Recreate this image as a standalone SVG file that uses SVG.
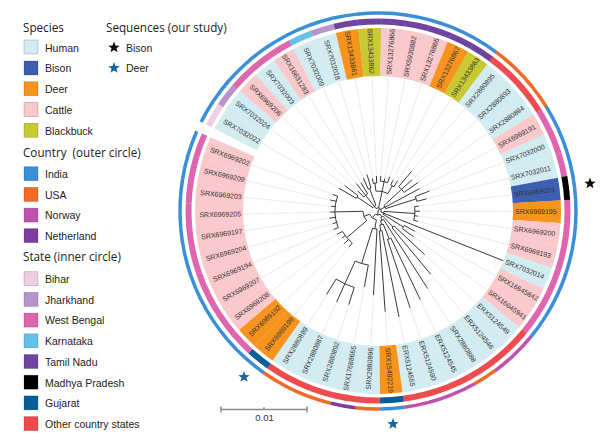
<svg xmlns="http://www.w3.org/2000/svg" width="600" height="438" viewBox="0 0 600 438">
<style>
.hd{font-family:"Open Sans","Liberation Sans",sans-serif;font-size:11.7px;fill:#222}
.lg{font-family:"Liberation Sans",Arial,sans-serif;font-size:10.5px;fill:#222}
.sq{stroke:#000;stroke-opacity:0.22;stroke-width:0.8}
.lb{font-family:"Liberation Sans",Arial,sans-serif;font-size:7px;fill:#333}
.lr{text-anchor:end}
.br{fill:none;stroke:#222;stroke-width:0.9}
.gd{stroke:#c6c6c6;stroke-width:0.6;stroke-dasharray:1.2 1}
.f-hu{fill:#d3ecf2}.f-bi{fill:#3d5fb2}.f-de{fill:#f7941d}.f-ca{fill:#f9c9cc}.f-bb{fill:#c9c934}
.f-in{fill:#3b8ed8}.f-us{fill:#f06a25}.f-no{fill:#c052ae}.f-ne{fill:#7d3d9f}
.f-bh{fill:#efcde2}.f-jh{fill:#b695cb}.f-wb{fill:#df66ae}.f-ka{fill:#62c2ea}.f-tn{fill:#6e44a0}.f-mp{fill:#000}.f-gu{fill:#0b5d97}.f-ot{fill:#ee4b4f}
.s-in{stroke:#3b8ed8}.s-us{stroke:#f06a25}.s-no{stroke:#c052ae}.s-ne{stroke:#7d3d9f}
.s-bh{stroke:#efcde2}.s-jh{stroke:#b695cb}.s-wb{stroke:#df66ae}.s-ka{stroke:#62c2ea}.s-tn{stroke:#6e44a0}.s-mp{stroke:#000}.s-gu{stroke:#0b5d97}.s-ot{stroke:#ee4b4f}
.scale{stroke:#8a8a8a;stroke-width:1.5;fill:none}
.sc{font-family:"Liberation Sans",Arial,sans-serif;font-size:9.5px;fill:#333;text-anchor:middle}
</style>
<defs>
<path id="sec" d="M134.73,-8.48 L182.64,-11.49 A183,183 0 0 1 182.64,11.49 L134.73,8.48 A135,135 0 0 0 134.73,-8.48 Z"/>
<path id="ri" d="M189.13,-11.90 A189.5,189.5 0 0 1 189.13,11.90" fill="none" stroke-width="6"/>
<path id="ro" d="M197.61,-12.43 A198,198 0 0 1 197.61,12.43" fill="none" stroke-width="3.5"/>
<polygon id="star" points="0,-6 1.53,-2.1 5.71,-1.85 2.47,0.8 3.53,4.85 0,2.6 -3.53,4.85 -2.47,0.8 -5.71,-1.85 -1.53,-2.1"/>
</defs>
<rect width="600" height="438" fill="#fff"/>

<g id="legend">
<text class="hd" x="23" y="32">Species</text>
<rect class="sq f-hu" x="24" y="40" width="14" height="14"/><text class="lg" x="45" y="51.5">Human</text>
<rect class="sq f-bi" x="24" y="61" width="14" height="14"/><text class="lg" x="45" y="72.3">Bison</text>
<rect class="sq f-de" x="24" y="81.7" width="14" height="14"/><text class="lg" x="45" y="93">Deer</text>
<rect class="sq f-ca" x="24" y="102.5" width="14" height="14"/><text class="lg" x="45" y="113.8">Cattle</text>
<rect class="sq f-bb" x="24" y="123.3" width="14" height="14"/><text class="lg" x="45" y="134.6">Blackbuck</text>
<text class="hd" x="23" y="156.7">Country&#160; (outer circle)</text>
<rect class="sq f-in" x="24" y="166.7" width="14" height="14"/><text class="lg" x="45" y="178">India</text>
<rect class="sq f-us" x="24" y="187.4" width="14" height="14"/><text class="lg" x="45" y="198.7">USA</text>
<rect class="sq f-no" x="24" y="208.1" width="14" height="14"/><text class="lg" x="45" y="219.4">Norway</text>
<rect class="sq f-ne" x="24" y="228.6" width="14" height="14"/><text class="lg" x="45" y="239.9">Netherland</text>
<text class="hd" x="23" y="260.6">State (inner circle)</text>
<rect class="sq f-bh" x="24" y="271.7" width="14" height="14"/><text class="lg" x="45" y="283">Bihar</text>
<rect class="sq f-jh" x="24" y="292.4" width="14" height="14"/><text class="lg" x="45" y="303.7">Jharkhand</text>
<rect class="sq f-wb" x="24" y="313.1" width="14" height="14"/><text class="lg" x="45" y="324.4">West Bengal</text>
<rect class="sq f-ka" x="24" y="333.8" width="14" height="14"/><text class="lg" x="45" y="345.1">Karnataka</text>
<rect class="sq f-tn" x="24" y="354.5" width="14" height="14"/><text class="lg" x="45" y="365.8">Tamil Nadu</text>
<rect class="sq f-mp" x="24" y="375.2" width="14" height="14"/><text class="lg" x="45" y="386.5">Madhya Pradesh</text>
<rect class="sq f-gu" x="24" y="395.9" width="14" height="14"/><text class="lg" x="45" y="407.2">Gujarat</text>
<rect class="sq f-ot" x="24" y="416.6" width="14" height="14"/><text class="lg" x="45" y="427.9">Other country states</text>
<text class="hd" x="106" y="32">Sequences (our study)</text>
<use href="#star" x="114" y="47.5" fill="#111"/><text class="lg" x="126" y="51.5">Bison</text>
<use href="#star" x="114" y="68" fill="#17679e"/><text class="lg" x="126" y="72.3">Deer</text>
</g>

<g id="connectors" transform="translate(378 211)">
<g id="guides">
<line class="gd" x1="45" x2="135" transform="rotate(210.3)"/>
<line class="gd" x1="42" x2="135" transform="rotate(217.44)"/>
<line class="gd" x1="28" x2="135" transform="rotate(224.58)"/>
<line class="gd" x1="35" x2="135" transform="rotate(231.72)"/>
<line class="gd" x1="33" x2="135" transform="rotate(238.86)"/>
<line class="gd" x1="36" x2="135" transform="rotate(246)"/>
<line class="gd" x1="38" x2="135" transform="rotate(253.14)"/>
<line class="gd" x1="33" x2="135" transform="rotate(260.28)"/>
<line class="gd" x1="35" x2="135" transform="rotate(267.42)"/>
<line class="gd" x1="35" x2="135" transform="rotate(274.56)"/>
<line class="gd" x1="33" x2="135" transform="rotate(281.7)"/>
<line class="gd" x1="36" x2="135" transform="rotate(288.84)"/>
<line class="gd" x1="34" x2="135" transform="rotate(295.98)"/>
<line class="gd" x1="36" x2="135" transform="rotate(303.12)"/>
<line class="gd" x1="52" x2="135" transform="rotate(310.26)"/>
<line class="gd" x1="46" x2="135" transform="rotate(317.4)"/>
<line class="gd" x1="49" x2="135" transform="rotate(324.54)"/>
<line class="gd" x1="47" x2="135" transform="rotate(331.68)"/>
<line class="gd" x1="55" x2="135" transform="rotate(338.82)"/>
<line class="gd" x1="50" x2="135" transform="rotate(345.96)"/>
<line class="gd" x1="41" x2="135" transform="rotate(353.1)"/>
<line class="gd" x1="42" x2="135" transform="rotate(0.24)"/>
<line class="gd" x1="40" x2="135" transform="rotate(7.38)"/>
<line class="gd" x1="41" x2="135" transform="rotate(14.52)"/>
<line class="gd" x1="42" x2="135" transform="rotate(28.8)"/>
<line class="gd" x1="44" x2="135" transform="rotate(35.94)"/>
<line class="gd" x1="64" x2="135" transform="rotate(43.08)"/>
<line class="gd" x1="82" x2="135" transform="rotate(50.22)"/>
<line class="gd" x1="92" x2="135" transform="rotate(57.36)"/>
<line class="gd" x1="98" x2="135" transform="rotate(64.5)"/>
<line class="gd" x1="102" x2="135" transform="rotate(71.64)"/>
<line class="gd" x1="108" x2="135" transform="rotate(78.78)"/>
<line class="gd" x1="101" x2="135" transform="rotate(85.92)"/>
<line class="gd" x1="84" x2="135" transform="rotate(93.06)"/>
<line class="gd" x1="77" x2="135" transform="rotate(100.2)"/>
<line class="gd" x1="98" x2="135" transform="rotate(107.34)"/>
<line class="gd" x1="100" x2="135" transform="rotate(114.48)"/>
<line class="gd" x1="98" x2="135" transform="rotate(121.62)"/>
<line class="gd" x1="46" x2="135" transform="rotate(128.76)"/>
<line class="gd" x1="47" x2="135" transform="rotate(135.9)"/>
<line class="gd" x1="45" x2="135" transform="rotate(143.04)"/>
<line class="gd" x1="47" x2="135" transform="rotate(150.18)"/>
<line class="gd" x1="48" x2="135" transform="rotate(157.32)"/>
<line class="gd" x1="47" x2="135" transform="rotate(164.46)"/>
<line class="gd" x1="49" x2="135" transform="rotate(171.6)"/>
<line class="gd" x1="48" x2="135" transform="rotate(178.74)"/>
<line class="gd" x1="47" x2="135" transform="rotate(185.88)"/>
<line class="gd" x1="49" x2="135" transform="rotate(193.02)"/>
<line class="gd" x1="48" x2="135" transform="rotate(200.16)"/>
</g>
<path id="tree" class="br" d="M0,0 L-0.2,4.0 M0,0 L1.7,-2.5
M2.2,3.3 A4,4 0 0 1 -2.6,3.1 M2.2,3.3 L3.9,5.8 M-2.6,3.1 L-5.7,6.9
M-1.6,8.9 A9,9 0 0 1 -8.4,3.2 M-1.6,8.9 L-3.2,17.7 M-8.4,3.2 L-14.0,5.4
M-11.4,9.7 A15,15 0 0 1 -15.0,0.3 M-11.4,9.7 L-31.2,26.6 M-15.0,0.3 L-43.0,0.9
M-25.7,32.0 A41,41 0 0 1 -35.6,20.4
M-25.7,32.0 L-28.8,35.9 M-29.4,28.5 L-33.8,32.7 M-32.8,24.7 L-36.0,27.1 M-35.6,20.4 L-40.8,23.4
M-39.7,16.6 A43,43 0 0 1 -40.4,-14.8
M-39.7,16.6 L-44.3,18.5 M-41.4,11.5 L-45.3,12.6 M-42.5,6.3 L-48.5,7.2 M-43.0,0.9 L-48.0,1.1 M-42.8,-4.4 L-46.8,-4.8 M-41.9,-9.7 L-47.7,-11.0 M-40.4,-14.8 L-45.1,-16.5
M-1.0,18.0 A18,18 0 0 1 -5.4,17.2 M-1.0,18.0 L-4.5,83.9 M-5.4,17.2 L-16.4,52.5
M-9.7,54.1 A55,55 0 0 1 -22.8,50.1 M-9.7,54.1 L-13.6,75.8 M-22.8,50.1 L-33.2,72.8
M-23.8,76.4 A80,80 0 0 1 -41.9,68.1 M-23.8,76.4 L-29.2,93.5 M-33.2,72.8 L-41.4,91.0 M-41.9,68.1 L-51.4,83.4
M4.8,5.1 A7,7 0 0 1 2.8,6.4 M4.8,5.1 L15.1,16.0
M16.1,15.0 A22,22 0 0 1 14.1,16.9 M16.1,15.0 L46.7,43.7 M14.1,16.9 L52.5,63.0
M2.8,6.4 L4.0,9.2 M5.4,8.4 A10,10 0 0 1 2.6,9.7 M5.4,8.4 L49.6,77.5
M2.6,9.7 L3.6,13.5 M5.2,13.0 A14,14 0 0 1 1.9,13.9 M5.2,13.0 L11.2,27.8
M12.9,27.1 A30,30 0 0 1 9.5,28.5 M12.9,27.1 L42.2,88.5 M9.5,28.5 L32.1,96.8
M1.9,13.9 L2.7,19.8 M3.9,19.6 A20,20 0 0 1 1.4,20.0 M3.9,19.6 L21.0,105.9 M1.4,20.0 L7.2,100.7
M-1.9,-2.4 A3,3 0 0 1 2.9,0.9 M-1.9,-2.4 L-3.7,-4.7
M-5.0,-3.3 A6,6 0 0 1 -2.1,-5.6 M-5.0,-3.3 L-20.8,-13.9
M-21.6,-12.6 A25,25 0 0 1 -19.9,-15.2 M-21.6,-12.6 L-38.9,-22.7 M-19.9,-15.2 L-33.3,-25.5
M-3.7,-4.7 L-12.4,-15.7 M-14.2,-14.0 A20,20 0 0 1 -10.3,-17.1 M-14.2,-14.0 L-19.9,-19.7 M-12.4,-15.7 L-21.7,-27.5 M-10.3,-17.1 L-17.1,-28.2
M-2.1,-5.6 L-8.4,-22.5 M-9.8,-21.9 A24,24 0 0 1 -7.0,-23.0 M-9.8,-21.9 L-14.6,-32.9 M-7.0,-23.0 L-11.0,-36.4
M0.6,-2.9 L4.1,-19.6 M-2.1,-19.9 A20,20 0 0 1 9.9,-17.4
M-2.1,-19.9 L-3.0,-27.8 M-4.7,-27.6 A28,28 0 0 1 -1.3,-28.0 M-4.7,-27.6 L-5.6,-32.5 M-1.3,-28.0 L-1.6,-35.0
M4.1,-19.6 L6.1,-29.4 M2.4,-29.9 A30,30 0 0 1 9.7,-28.4 M2.4,-29.9 L2.8,-34.9 M6.1,-29.4 L6.7,-32.3 M9.7,-28.4 L11.6,-34.1
M9.9,-17.4 L14.3,-25.2 M12.7,-26.1 A29,29 0 0 1 15.8,-24.3 M12.7,-26.1 L14.9,-30.6 M15.8,-24.3 L19.7,-30.2
M2.6,-1.5 L6.9,-4.0 M5.9,-5.4 A8,8 0 0 1 7.6,-2.4
M5.9,-5.4 L23.6,-21.7 M20.7,-24.4 A32,32 0 0 1 26.1,-18.6 M20.7,-24.4 L33.6,-39.7 M23.6,-21.7 L33.9,-31.1 M26.1,-18.6 L39.9,-28.4
M7.0,-3.8 L41.4,-22.3
M7.6,-2.4 L38.1,-12.1 M37.3,-14.5 A40,40 0 0 1 38.8,-9.7 M37.3,-14.5 L51.3,-19.9 M38.8,-9.7 L48.5,-12.1
M2.9,0.9 L5.7,1.9 M6.0,0.4 A6,6 0 0 1 5.1,3.2
M6.0,0.4 L36.9,2.5 M36.7,-4.4 A37,37 0 0 1 35.8,9.3 M36.7,-4.4 L40.7,-4.9 M37.0,0.2 L42.0,0.2 M36.7,4.8 L39.7,5.1 M35.8,9.3 L39.7,10.3
M5.6,2.2 L125.5,49.8
M5.1,3.2 L25.3,16.1 M26.3,14.5 A30,30 0 0 1 24.3,17.6 M26.3,14.5 L36.8,20.2 M24.3,17.6 L35.6,25.8"/>
</g>

<g id="tips" transform="translate(378 211)">
<g id="leaf-SRX7032022" transform="rotate(210.3)"><use href="#sec" class="f-hu"/><use href="#ri" class="s-bh"/><use href="#ro" class="s-in"/><text class="lb lr" transform="rotate(180)" x="-137" y="2.4">SRX7032022</text></g>
<g id="leaf-SRX7032024" transform="rotate(217.44)"><use href="#sec" class="f-hu"/><use href="#ri" class="s-jh"/><use href="#ro" class="s-in"/><text class="lb lr" transform="rotate(180)" x="-137" y="2.4">SRX7032024</text></g>
<g id="leaf-SRX6969206" transform="rotate(224.58)"><use href="#sec" class="f-ca"/><use href="#ri" class="s-wb"/><use href="#ro" class="s-in"/><text class="lb lr" transform="rotate(180)" x="-137" y="2.4">SRX6969206</text></g>
<g id="leaf-SRX7032003" transform="rotate(231.72)"><use href="#sec" class="f-hu"/><use href="#ri" class="s-wb"/><use href="#ro" class="s-in"/><text class="lb lr" transform="rotate(180)" x="-137" y="2.4">SRX7032003</text></g>
<g id="leaf-SRX16631283" transform="rotate(238.86)"><use href="#sec" class="f-ca"/><use href="#ri" class="s-wb"/><use href="#ro" class="s-in"/><text class="lb lr" transform="rotate(180)" x="-137" y="2.4">SRX16631283</text></g>
<g id="leaf-SRX7032009" transform="rotate(246)"><use href="#sec" class="f-hu"/><use href="#ri" class="s-ka"/><use href="#ro" class="s-in"/><text class="lb lr" transform="rotate(180)" x="-137" y="2.4">SRX7032009</text></g>
<g id="leaf-SRX7032018" transform="rotate(253.14)"><use href="#sec" class="f-hu"/><use href="#ri" class="s-jh"/><use href="#ro" class="s-in"/><text class="lb lr" transform="rotate(180)" x="-137" y="2.4">SRX7032018</text></g>
<g id="leaf-SRX13433861" transform="rotate(260.28)"><use href="#sec" class="f-de"/><use href="#ri" class="s-tn"/><use href="#ro" class="s-in"/><text class="lb lr" transform="rotate(180)" x="-137" y="2.4">SRX13433861</text></g>
<g id="leaf-SRX13433862" transform="rotate(267.42)"><use href="#sec" class="f-bb"/><use href="#ri" class="s-tn"/><use href="#ro" class="s-in"/><text class="lb lr" transform="rotate(180)" x="-137" y="2.4">SRX13433862</text></g>
<g id="leaf-SRX13276866" transform="rotate(274.56)"><use href="#sec" class="f-ca"/><use href="#ri" class="s-tn"/><use href="#ro" class="s-in"/><text class="lb" x="137" y="2.4">SRX13276866</text></g>
<g id="leaf-SRX5930882" transform="rotate(281.7)"><use href="#sec" class="f-ca"/><use href="#ri" class="s-tn"/><use href="#ro" class="s-in"/><text class="lb" x="137" y="2.4">SRX5930882</text></g>
<g id="leaf-SRX13276865" transform="rotate(288.84)"><use href="#sec" class="f-ca"/><use href="#ri" class="s-tn"/><use href="#ro" class="s-in"/><text class="lb" x="137" y="2.4">SRX13276865</text></g>
<g id="leaf-SRX13276867" transform="rotate(295.98)"><use href="#sec" class="f-de"/><use href="#ri" class="s-tn"/><use href="#ro" class="s-in"/><text class="lb" x="137" y="2.4">SRX13276867</text></g>
<g id="leaf-SRX13433863" transform="rotate(303.12)"><use href="#sec" class="f-bb"/><use href="#ri" class="s-tn"/><use href="#ro" class="s-in"/><text class="lb" x="137" y="2.4">SRX13433863</text></g>
<g id="leaf-SRX2880895" transform="rotate(310.26)"><use href="#sec" class="f-hu"/><use href="#ri" class="s-ot"/><use href="#ro" class="s-us"/><text class="lb" x="137" y="2.4">SRX2880895</text></g>
<g id="leaf-SRX2880893" transform="rotate(317.4)"><use href="#sec" class="f-hu"/><use href="#ri" class="s-ot"/><use href="#ro" class="s-us"/><text class="lb" x="137" y="2.4">SRX2880893</text></g>
<g id="leaf-SRX2880894" transform="rotate(324.54)"><use href="#sec" class="f-hu"/><use href="#ri" class="s-ot"/><use href="#ro" class="s-us"/><text class="lb" x="137" y="2.4">SRX2880894</text></g>
<g id="leaf-SRX6969191" transform="rotate(331.68)"><use href="#sec" class="f-ca"/><use href="#ri" class="s-wb"/><use href="#ro" class="s-in"/><text class="lb" x="137" y="2.4">SRX6969191</text></g>
<g id="leaf-SRX7032000" transform="rotate(338.82)"><use href="#sec" class="f-hu"/><use href="#ri" class="s-wb"/><use href="#ro" class="s-in"/><text class="lb" x="137" y="2.4">SRX7032000</text></g>
<g id="leaf-SRX7032011" transform="rotate(345.96)"><use href="#sec" class="f-hu"/><use href="#ri" class="s-wb"/><use href="#ro" class="s-in"/><text class="lb" x="137" y="2.4">SRX7032011</text></g>
<g id="leaf-SRX6969201" transform="rotate(353.1)"><use href="#sec" class="f-bi"/><use href="#ri" class="s-mp"/><use href="#ro" class="s-in"/><text class="lb" x="137" y="2.4">SRX6969201</text></g>
<g id="leaf-SRX6969195" transform="rotate(0.24)"><use href="#sec" class="f-de"/><use href="#ri" class="s-wb"/><use href="#ro" class="s-in"/><text class="lb" x="137" y="2.4">SRX6969195</text></g>
<g id="leaf-SRX6969200" transform="rotate(7.38)"><use href="#sec" class="f-ca"/><use href="#ri" class="s-wb"/><use href="#ro" class="s-in"/><text class="lb" x="137" y="2.4">SRX6969200</text></g>
<g id="leaf-SRX6969193" transform="rotate(14.52)"><use href="#sec" class="f-ca"/><use href="#ri" class="s-wb"/><use href="#ro" class="s-in"/><text class="lb" x="137" y="2.4">SRX6969193</text></g>
<g id="leaf-SRX7032014" transform="rotate(21.66)"><use href="#sec" class="f-hu"/><use href="#ri" class="s-wb"/><use href="#ro" class="s-in"/><text class="lb" x="137" y="2.4">SRX7032014</text></g>
<g id="leaf-SRX16645842" transform="rotate(28.8)"><use href="#sec" class="f-ca"/><use href="#ri" class="s-wb"/><use href="#ro" class="s-in"/><text class="lb" x="137" y="2.4">SRX16645842</text></g>
<g id="leaf-SRX16645941" transform="rotate(35.94)"><use href="#sec" class="f-ca"/><use href="#ri" class="s-wb"/><use href="#ro" class="s-in"/><text class="lb" x="137" y="2.4">SRX16645941</text></g>
<g id="leaf-ERX5124549" transform="rotate(43.08)"><use href="#sec" class="f-hu"/><use href="#ri" class="s-ot"/><use href="#ro" class="s-no"/><text class="lb" x="137" y="2.4">ERX5124549</text></g>
<g id="leaf-ERX5124546" transform="rotate(50.22)"><use href="#sec" class="f-hu"/><use href="#ri" class="s-ot"/><use href="#ro" class="s-no"/><text class="lb" x="137" y="2.4">ERX5124546</text></g>
<g id="leaf-SRX2880888" transform="rotate(57.36)"><use href="#sec" class="f-hu"/><use href="#ri" class="s-ot"/><use href="#ro" class="s-us"/><text class="lb" x="137" y="2.4">SRX2880888</text></g>
<g id="leaf-ERX5124545" transform="rotate(64.5)"><use href="#sec" class="f-hu"/><use href="#ri" class="s-ot"/><use href="#ro" class="s-no"/><text class="lb" x="137" y="2.4">ERX5124545</text></g>
<g id="leaf-ERX5124590" transform="rotate(71.64)"><use href="#sec" class="f-hu"/><use href="#ri" class="s-ot"/><use href="#ro" class="s-no"/><text class="lb" x="137" y="2.4">ERX5124590</text></g>
<g id="leaf-ERX5124555" transform="rotate(78.78)"><use href="#sec" class="f-hu"/><use href="#ri" class="s-ot"/><use href="#ro" class="s-no"/><text class="lb" x="137" y="2.4">ERX5124555</text></g>
<g id="leaf-SRX15482219" transform="rotate(85.92)"><use href="#sec" class="f-de"/><use href="#ri" class="s-gu"/><use href="#ro" class="s-in"/><text class="lb" x="137" y="2.4">SRX15482219</text></g>
<g id="leaf-SRX2880896" transform="rotate(93.06)"><use href="#sec" class="f-hu"/><use href="#ri" class="s-ot"/><use href="#ro" class="s-us"/><text class="lb lr" transform="rotate(180)" x="-137" y="2.4">SRX2880896</text></g>
<g id="leaf-SRX17688665" transform="rotate(100.2)"><use href="#sec" class="f-hu"/><use href="#ri" class="s-ot"/><use href="#ro" class="s-ne"/><text class="lb lr" transform="rotate(180)" x="-137" y="2.4">SRX17688665</text></g>
<g id="leaf-SRX2880892" transform="rotate(107.34)"><use href="#sec" class="f-hu"/><use href="#ri" class="s-ot"/><use href="#ro" class="s-us"/><text class="lb lr" transform="rotate(180)" x="-137" y="2.4">SRX2880892</text></g>
<g id="leaf-SRX2880887" transform="rotate(114.48)"><use href="#sec" class="f-hu"/><use href="#ri" class="s-ot"/><use href="#ro" class="s-us"/><text class="lb lr" transform="rotate(180)" x="-137" y="2.4">SRX2880887</text></g>
<g id="leaf-SRX2880899" transform="rotate(121.62)"><use href="#sec" class="f-hu"/><use href="#ri" class="s-ot"/><use href="#ro" class="s-us"/><text class="lb lr" transform="rotate(180)" x="-137" y="2.4">SRX2880899</text></g>
<g id="leaf-SRX6969199" transform="rotate(128.76)"><use href="#sec" class="f-de"/><use href="#ri" class="s-gu"/><use href="#ro" class="s-in"/><text class="lb lr" transform="rotate(180)" x="-137" y="2.4">SRX6969199</text></g>
<g id="leaf-SRX6969192" transform="rotate(135.9)"><use href="#sec" class="f-de"/><use href="#ri" class="s-wb"/><use href="#ro" class="s-in"/><text class="lb lr" transform="rotate(180)" x="-137" y="2.4">SRX6969192</text></g>
<g id="leaf-SRX6969208" transform="rotate(143.04)"><use href="#sec" class="f-ca"/><use href="#ri" class="s-wb"/><use href="#ro" class="s-in"/><text class="lb lr" transform="rotate(180)" x="-137" y="2.4">SRX6969208</text></g>
<g id="leaf-SRX6969207" transform="rotate(150.18)"><use href="#sec" class="f-ca"/><use href="#ri" class="s-wb"/><use href="#ro" class="s-in"/><text class="lb lr" transform="rotate(180)" x="-137" y="2.4">SRX6969207</text></g>
<g id="leaf-SRX6969194" transform="rotate(157.32)"><use href="#sec" class="f-ca"/><use href="#ri" class="s-wb"/><use href="#ro" class="s-in"/><text class="lb lr" transform="rotate(180)" x="-137" y="2.4">SRX6969194</text></g>
<g id="leaf-SRX6969204" transform="rotate(164.46)"><use href="#sec" class="f-ca"/><use href="#ri" class="s-wb"/><use href="#ro" class="s-in"/><text class="lb lr" transform="rotate(180)" x="-137" y="2.4">SRX6969204</text></g>
<g id="leaf-SRX6969197" transform="rotate(171.6)"><use href="#sec" class="f-ca"/><use href="#ri" class="s-wb"/><use href="#ro" class="s-in"/><text class="lb lr" transform="rotate(180)" x="-137" y="2.4">SRX6969197</text></g>
<g id="leaf-SRX6969205" transform="rotate(178.74)"><use href="#sec" class="f-ca"/><use href="#ri" class="s-wb"/><use href="#ro" class="s-in"/><text class="lb lr" transform="rotate(180)" x="-137" y="2.4">SRX6969205</text></g>
<g id="leaf-SRX6969203" transform="rotate(185.88)"><use href="#sec" class="f-ca"/><use href="#ri" class="s-wb"/><use href="#ro" class="s-in"/><text class="lb lr" transform="rotate(180)" x="-137" y="2.4">SRX6969203</text></g>
<g id="leaf-SRX6969209" transform="rotate(193.02)"><use href="#sec" class="f-ca"/><use href="#ri" class="s-wb"/><use href="#ro" class="s-in"/><text class="lb lr" transform="rotate(180)" x="-137" y="2.4">SRX6969209</text></g>
<g id="leaf-SRX6969202" transform="rotate(200.16)"><use href="#sec" class="f-ca"/><use href="#ri" class="s-wb"/><use href="#ro" class="s-in"/><text class="lb lr" transform="rotate(180)" x="-137" y="2.4">SRX6969202</text></g>
</g>

<g id="markers">
<use id="star-bison" href="#star" x="590" y="183.5" fill="#111"/>
<use id="star-deer-1" href="#star" x="244" y="377" fill="#17679e"/>
<use id="star-deer-2" href="#star" x="393" y="424" fill="#17679e"/>
</g>

<g id="scalebar">
<path class="scale" d="M221,409.5 H307 M221,406.5 V412.5 M307,406.5 V412.5 M264,407.3 V409.5"/>
<text class="sc" x="264.5" y="421">0.01</text>
</g>
</svg>
